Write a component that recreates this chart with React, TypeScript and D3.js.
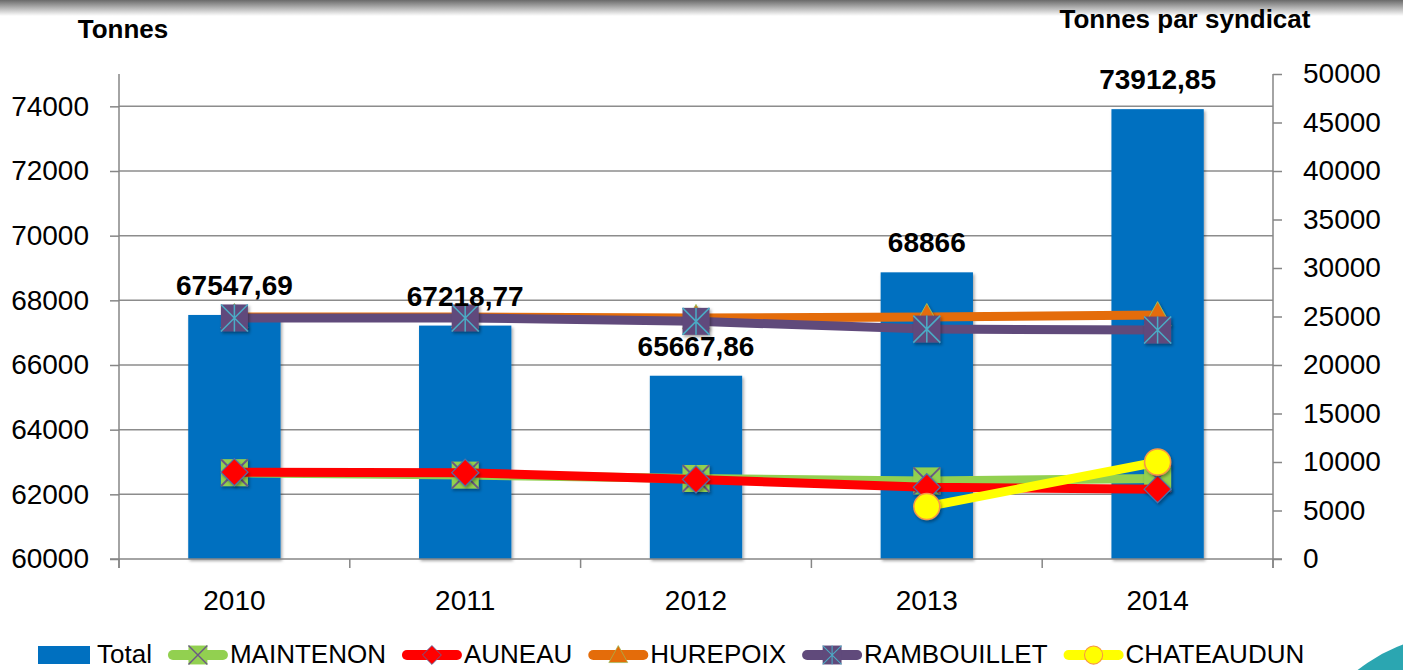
import React, { useEffect, useRef } from 'react'
import * as d3 from 'd3'

const years = ['2010', '2011', '2012', '2013', '2014']
const totals = [67547.69, 67218.77, 65667.86, 68866, 73912.85]
const maintenon = [8900, 8650, 8300, 8050, 8300]
const auneau = [8950, 8900, 8200, 7400, 7200]
const hurepoix = [24950, 24950, 24850, 24950, 25150]
const rambouillet = [24850, 24850, 24500, 23700, 23600]
const chateaudun = [null, null, null, 5400, 10000]
const leftTicks = [60000, 62000, 64000, 66000, 68000, 70000, 72000, 74000]
const rightTicks = [0, 5000, 10000, 15000, 20000, 25000, 30000, 35000, 40000, 45000, 50000]

const W = 1403, H = 670
const FONT = "'Liberation Sans', Arial, sans-serif"

const series = [
    { name: 'MAINTENON', values: maintenon, color: '#92d050', marker: 'x' },
    { name: 'AUNEAU', values: auneau, color: '#ff0000', marker: 'diamond' },
    { name: 'HUREPOIX', values: hurepoix, color: '#e46c0a', marker: 'triangle' },
    { name: 'RAMBOUILLET', values: rambouillet, color: '#604a7b', marker: 'star' },
    { name: 'CHATEAUDUN', values: chateaudun, color: '#ffff00', marker: 'circle' },
]

// draws one marker centred at 0,0 inside g
const drawMarker = (g, kind, color) => {
    const s = 13.5
    if (kind === 'x') {
        g.append('rect').attr('x', -s).attr('y', -s).attr('width', 2 * s).attr('height', 2 * s).attr('fill', color)
        g.append('path').attr('d', `M${-s},${-s}L${s},${s}M${-s},${s}L${s},${-s}`)
            .attr('stroke', '#6b5a84').attr('stroke-width', 2)
    } else if (kind === 'diamond') {
        g.append('path').attr('d', `M0,${-s}L${s},0L0,${s}L${-s},0Z`)
            .attr('fill', color).attr('stroke', '#4f6fa8').attr('stroke-width', 1.2)
    } else if (kind === 'triangle') {
        g.append('path').attr('d', `M0,${-s}L${s},${s * 0.8}L${-s},${s * 0.8}Z`)
            .attr('fill', color).attr('stroke', '#9bbb59').attr('stroke-width', 1)
    } else if (kind === 'star') {
        g.append('rect').attr('x', -s).attr('y', -s).attr('width', 2 * s).attr('height', 2 * s).attr('fill', color)
        g.append('path').attr('d', `M${-s},${-s}L${s},${s}M${-s},${s}L${s},${-s}M0,${-s}L0,${s}`)
            .attr('stroke', '#4bacc6').attr('stroke-width', 1.5)
    } else {
        g.append('circle').attr('r', s - 0.5).attr('fill', color).attr('stroke', '#f79646').attr('stroke-width', 1.5)
    }
}

export default function App() {
    const ref = useRef(null)

    useEffect(() => {
        const svg = d3.select(ref.current)
        svg.selectAll('*').remove()

        const defs = svg.append('defs')
        const grad = defs.append('linearGradient').attr('id', 'topfade')
            .attr('x1', 0).attr('y1', 0).attr('x2', 0).attr('y2', 1)
        grad.append('stop').attr('offset', 0).attr('stop-color', '#6a6a6a')
        grad.append('stop').attr('offset', 1).attr('stop-color', '#ffffff')
        defs.append('filter').attr('id', 'shadow').attr('x', '-50%').attr('y', '-50%').attr('width', '200%').attr('height', '200%')
            .append('feDropShadow').attr('dx', 1.5).attr('dy', 2).attr('stdDeviation', 1.5)
            .attr('flood-color', '#000').attr('flood-opacity', 0.35)

        svg.append('rect').attr('width', W).attr('height', H).attr('fill', '#fff')
        svg.append('rect').attr('width', W).attr('height', 16).attr('fill', 'url(#topfade)')
        svg.append('circle').attr('cx', 1460).attr('cy', 800).attr('r', 165.5).attr('fill', '#2ba6b1')

        const x = d3.scaleBand().domain(years).range([119, 1273])
        const yL = d3.scaleLinear().domain([60000, 75000]).range([559, 74])
        const yR = d3.scaleLinear().domain([0, 50000]).range([559, 74])
        const barW = x.bandwidth() * 0.4
        const cx = d => x(d) + x.bandwidth() / 2

        // grid
        svg.append('g').selectAll('line').data(leftTicks.slice(1)).join('line')
            .attr('x1', 119).attr('x2', 1273)
            .attr('y1', d => yL(d)).attr('y2', d => yL(d))
            .attr('stroke', '#8c8c8c').attr('stroke-width', 1.5)

        // bars
        svg.append('g').attr('filter', 'url(#shadow)').selectAll('rect').data(totals).join('rect')
            .attr('x', (d, i) => cx(years[i]) - barW / 2)
            .attr('y', d => yL(d))
            .attr('width', barW)
            .attr('height', d => yL(60000) - yL(d))
            .attr('fill', '#0070c0')

        // axes
        const axisColor = '#868686'
        const left = svg.append('g').attr('transform', 'translate(119,0)')
            .call(d3.axisLeft(yL).tickValues(leftTicks).tickSize(9).tickPadding(21).tickFormat(d3.format('d')))
        const right = svg.append('g').attr('transform', 'translate(1273,0)')
            .call(d3.axisRight(yR).tickValues(rightTicks).tickSize(9).tickPadding(21).tickFormat(d3.format('d')))
        for (const a of [left, right]) {
            a.select('.domain').attr('d', 'M0,74V568').attr('stroke', axisColor).attr('stroke-width', 1.5)
            a.selectAll('.tick line').attr('stroke', axisColor).attr('stroke-width', 1.5)
            a.selectAll('.tick text').attr('fill', '#000').style('font-family', FONT).style('font-size', '28px')
        }
        svg.append('line').attr('x1', 110).attr('x2', 1282).attr('y1', 559).attr('y2', 559)
            .attr('stroke', axisColor).attr('stroke-width', 1.5)
        svg.append('g').selectAll('line').data(years.map(y => x(y)).concat([1273])).join('line')
            .attr('x1', d => d).attr('x2', d => d).attr('y1', 559).attr('y2', 568)
            .attr('stroke', axisColor).attr('stroke-width', 1.5)
        svg.append('g').selectAll('text').data(years).join('text')
            .attr('x', d => cx(d)).attr('y', 610).attr('text-anchor', 'middle')
            .style('font-family', FONT).style('font-size', '28px').text(d => d)

        // titles
        svg.append('text').attr('x', 123).attr('y', 38).attr('text-anchor', 'middle')
            .style('font-family', FONT).style('font-size', '26px').style('font-weight', 'bold').text('Tonnes')
        svg.append('text').attr('x', 1185).attr('y', 28).attr('text-anchor', 'middle')
            .style('font-family', FONT).style('font-size', '26px').style('font-weight', 'bold').text('Tonnes par syndicat')

        // lines + markers
        series.forEach(s => {
            const pts = s.values.map((v, i) => ({ v, i })).filter(p => p.v != null)
            const line = d3.line().x(p => cx(years[p.i])).y(p => yR(p.v))
            const g = svg.append('g')
            g.append('path').attr('d', line(pts)).attr('fill', 'none')
                .attr('stroke', s.color).attr('stroke-width', 9).attr('stroke-linejoin', 'round')
            pts.forEach(p => {
                const m = g.append('g').attr('filter', 'url(#shadow)')
                    .attr('transform', `translate(${cx(years[p.i])},${yR(p.v)})`)
                drawMarker(m, s.marker, s.color)
            })
        })

        // data labels
        svg.append('g').selectAll('text').data(totals).join('text')
            .attr('x', (d, i) => cx(years[i])).attr('y', d => yL(d) - 20)
            .attr('text-anchor', 'middle')
            .style('font-family', FONT).style('font-size', '28px').style('font-weight', 'bold')
            .text(d => String(d).replace('.', ','))

        // legend
        const lg = svg.append('g').style('font-family', FONT).style('font-size', '26px')
        let lx = 38
        const ly = 655
        const base = 663
        const gap = 16
        lg.append('rect').attr('x', lx).attr('y', 646).attr('width', 52).attr('height', 18).attr('fill', '#0070c0')
        let t = lg.append('text').attr('x', lx + 59).attr('y', base).text('Total')
        lx = lx + 59 + t.node().getComputedTextLength() + gap
        series.forEach(s => {
            lg.append('line').attr('x1', lx + 5).attr('x2', lx + 55).attr('y1', ly).attr('y2', ly)
                .attr('stroke', s.color).attr('stroke-width', 10).attr('stroke-linecap', 'round')
            const m = lg.append('g').attr('transform', `translate(${lx + 30},${ly}) scale(0.7)`)
            drawMarker(m, s.marker, s.color)
            t = lg.append('text').attr('x', lx + 62).attr('y', base).text(s.name)
            lx = lx + 62 + t.node().getComputedTextLength() + gap
        })
    }, [])

    return (
        <svg ref={ref} width={W} height={H} style={{ position: 'absolute', left: 0, top: 0 }} />
    )
}
